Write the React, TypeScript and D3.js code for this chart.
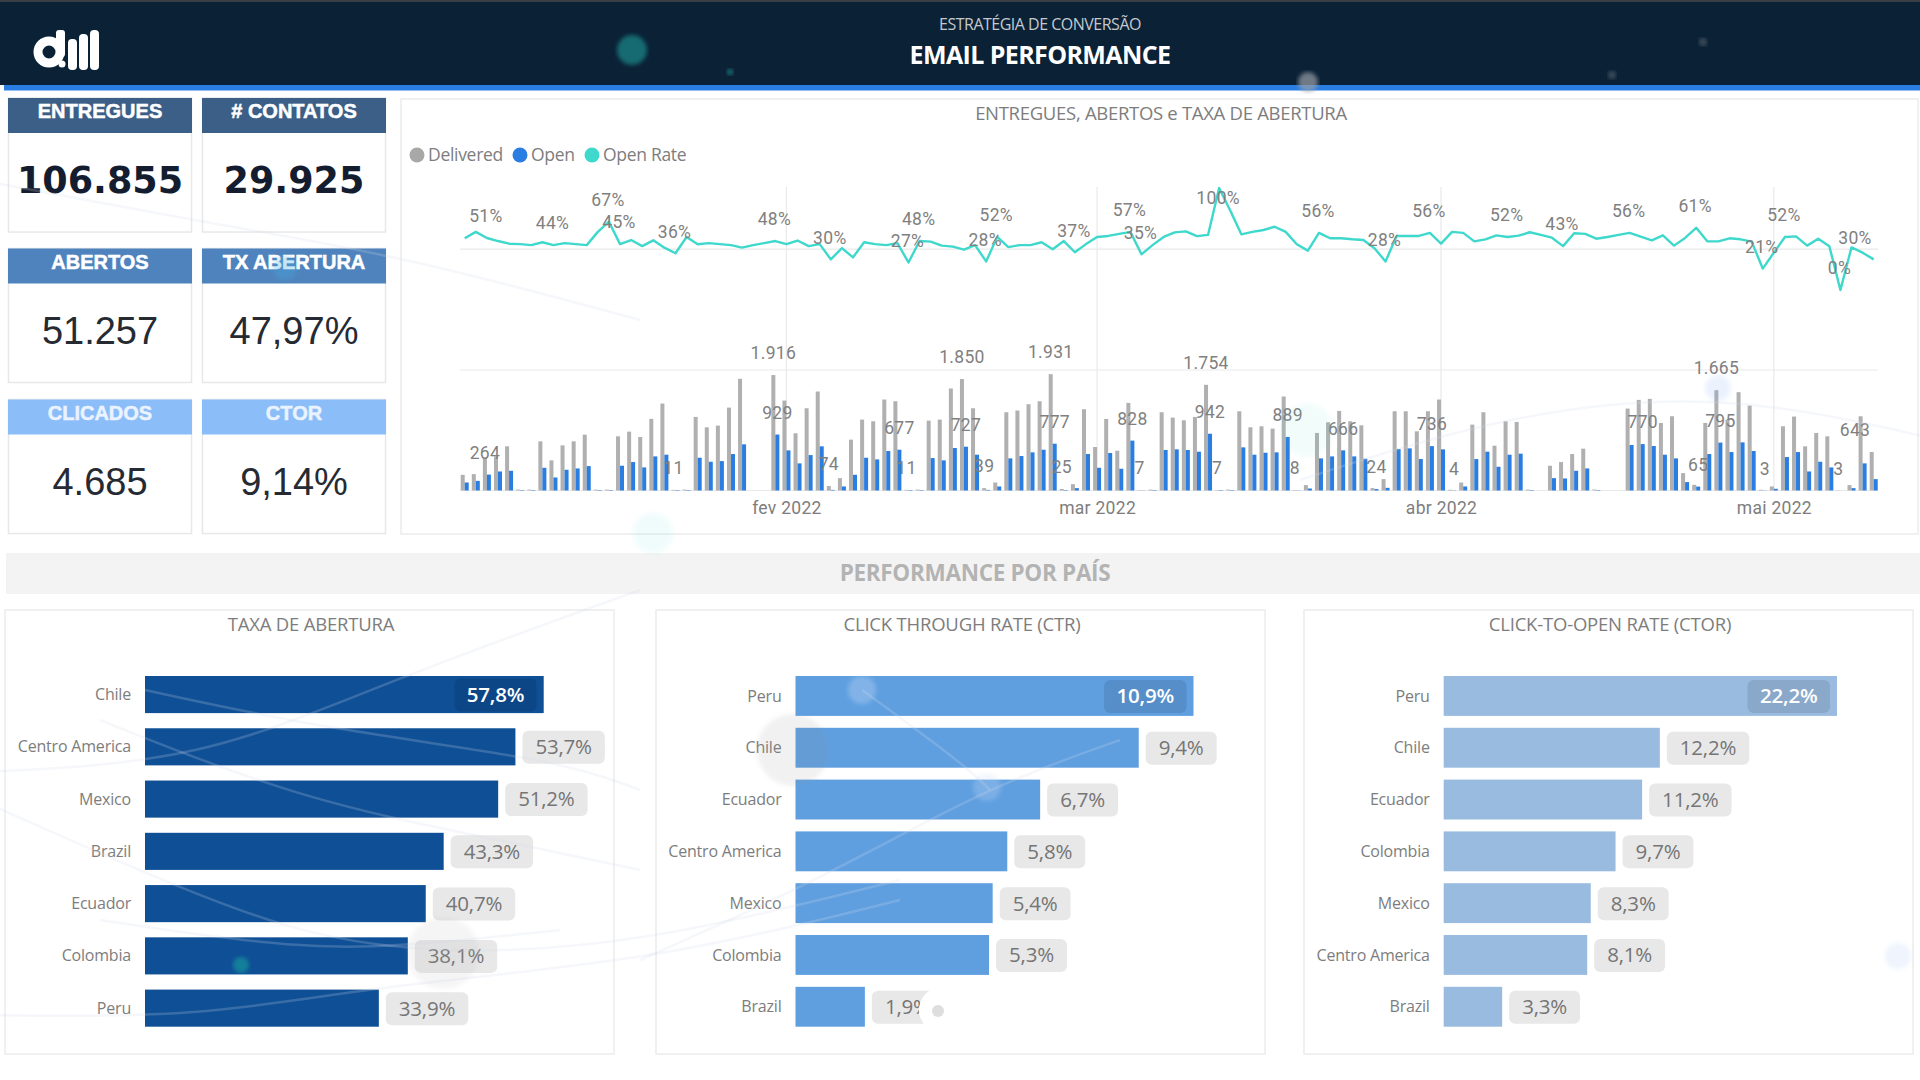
import * as d3 from "d3";
import { useEffect, useRef } from "react";

// kpi cards, left to right and top to bottom
const kpiTitles = ["ENTREGUES", "# CONTATOS", "ABERTOS", "TX ABERTURA", "CLICADOS", "CTOR"];
const kpiValues = ["106.855", "29.925", "51.257", "47,97%", "4.685", "9,14%"];

// one value per day from 3 jan 2022, seven per line (mon..fri, sat, sun)
const firstDay = new Date(2022, 0, 3);
const lastDay = new Date(2022, 4, 10);
const delivered = [
  260, 272, 538, 566, 733, 15, 15,
  816, 500, 749, 816, 927, 15, 15,
  899, 977, 888, 1188, 1443, 11, 15,
  1221, 1049, 1077, 1376, 1854, 0, 0,
  1916, 1493, 949, 1365, 1643, 74, 205,
  844, 1177, 1149, 1510, 1482, 11, 15,
  1160, 1177, 1693, 1850, 1365, 39, 133,
  1299, 1327, 1432, 1482, 1931, 25, 105,
  1349, 722, 1188, 660, 1454, 7, 15,
  1299, 1210, 1166, 1221, 1754, 7, 15,
  1315, 1049, 1066, 1027, 1560, 8, 89,
  955, 1132, 1321, 1149, 1082, 40, 189,
  1315, 1315, 982, 1315, 1510, 12, 133,
  1093, 1299, 744, 1149, 1138, 15, 0,
  411, 472, 605, 694, 15, 0, 0,
  1360, 1504, 1521, 1121, 1232, 289, 94,
  1121, 1665, 1177, 1632, 1410, 12, 67,
  1066, 1227, 733, 955, 899, 3, 89,
  1232, 638,
];
const opened = [
  133, 160, 264, 316, 327, 8, 8,
  377, 216, 344, 366, 405, 8, 8,
  411, 472, 383, 566, 594, 8, 8,
  544, 477, 488, 605, 766, 0, 0,
  929, 666, 450, 588, 733, 10, 67,
  261, 544, 516, 655, 677, 8, 8,
  538, 500, 705, 727, 594, 10, 67,
  533, 572, 633, 677, 777, 8, 39,
  605, 377, 622, 361, 828, 3, 8,
  672, 683, 672, 644, 942, 7, 8,
  716, 594, 627, 633, 889, 3, 33,
  533, 566, 666, 566, 527, 24, 44,
  688, 699, 522, 736, 683, 4, 67,
  522, 644, 394, 594, 611, 8, 0,
  205, 200, 327, 366, 8, 0, 0,
  755, 770, 738, 594, 533, 139, 65,
  605, 795, 638, 799, 655, 3, 28,
  555, 638, 316, 477, 383, 0, 39,
  450, 189,
];
const openRate = [
  50.7, 57, 51, 48, 45.4, 45, 44,
  46.8, 44, 46, 45, 44, 57, 67,
  45, 49, 43, 48.7, 41.5, 36, 52,
  44.8, 46, 45, 44, 41.5, 44, 46,
  48, 45, 48.5, 43, 45, 30, 41,
  32, 46.8, 45, 44, 46, 27, 48,
  47.4, 43.5, 42.5, 39.5, 44, 28, 52,
  42, 44, 44, 46.8, 40, 48, 37,
  45, 52, 53, 55, 57, 35, 44,
  52, 56.5, 57.5, 52.8, 54, 100, 78,
  54.6, 57, 58.8, 62, 57, 44.8, 38.6,
  56, 50.7, 50.7, 49.7, 49, 41, 28,
  52.9, 53, 53, 56, 45.5, 57, 56,
  47.7, 49.7, 53.6, 52, 53.3, 56.6, 54,
  51.3, 43, 55.6, 55, 50.3, 52, 54,
  56, 52.3, 48.7, 53.6, 43.5, 51, 61,
  47.7, 47.7, 50.7, 49.7, 47.4, 21, 36.6,
  52, 52.6, 43.5, 50.3, 43, 0, 41.8,
  36.6, 30,
];

// the few points power bi chose to label: [month, day, value]
const rateLabels = [
  [1, 5, 51], [1, 11, 44], [1, 16, 67], [1, 17, 45], [1, 22, 36], [1, 31, 48],
  [2, 5, 30], [2, 12, 27], [2, 13, 48], [2, 19, 28], [2, 20, 52], [2, 27, 37],
  [3, 4, 57], [3, 5, 35], [3, 12, 100], [3, 21, 56], [3, 27, 28], [3, 31, 56],
  [4, 7, 52], [4, 12, 43], [4, 18, 56], [4, 24, 61], [4, 30, 21],
  [5, 2, 52], [5, 7, 0], [5, 10, 30],
];
const deliveredLabels = [
  [1, 5, 264], [1, 22, 11], [1, 31, 1916], [2, 5, 74], [2, 12, 11], [2, 17, 1850],
  [2, 19, 39], [2, 25, 1931], [2, 26, 25], [3, 5, 7], [3, 11, 1754], [3, 12, 7],
  [3, 19, 8], [4, 26, 1665], [5, 7, 3],
];
const openedLabels = [
  [1, 31, 929], [2, 11, 677], [2, 17, 727], [2, 25, 777], [3, 4, 828], [3, 11, 942],
  [3, 18, 889], [3, 23, 666], [3, 26, 24], [3, 31, 736], [4, 2, 4], [4, 19, 770],
  [4, 24, 65], [4, 26, 795], [4, 30, 3], [5, 9, 643],
];
const monthNames = ["jan", "fev", "mar", "abr", "mai"];

// country panels
const openCountries = ["Chile", "Centro America", "Mexico", "Brazil", "Ecuador", "Colombia", "Peru"];
const openValues = [57.8, 53.7, 51.2, 43.3, 40.7, 38.1, 33.9];
const ctrCountries = ["Peru", "Chile", "Ecuador", "Centro America", "Mexico", "Colombia", "Brazil"];
const ctrValues = [10.9, 9.4, 6.7, 5.8, 5.4, 5.3, 1.9];
const ctorCountries = ["Peru", "Chile", "Ecuador", "Colombia", "Mexico", "Centro America", "Brazil"];
const ctorValues = [22.2, 12.2, 11.2, 9.7, 8.3, 8.1, 3.3];

const ptBR = d3.formatLocale({ decimal: ",", thousands: ".", grouping: [3], currency: ["R$", ""] });
const fmtInt = ptBR.format(",d");
const fmtPct = ptBR.format(".1f");

const GREY_TEXT = "#7d7d7d";
const SANS = "'Open Sans', sans-serif";
const DIN = "Roboto, sans-serif";

const drawHeader = (svg: any) => {
  svg.append("rect").attr("width", 1920).attr("height", 85).attr("fill", "#0b2136");
  svg.append("rect").attr("width", 1920).attr("height", 2).attr("fill", "#3a3f45");
  svg.append("rect").attr("x", 4).attr("y", 85).attr("width", 1916).attr("height", 5.5).attr("fill", "#2a7de1");

  // logo
  const logo = svg.append("g").attr("fill", "#fff").attr("transform", "translate(0,2)");
  logo.append("circle").attr("cx", 49).attr("cy", 50).attr("r", 11).attr("fill", "none").attr("stroke", "#fff").attr("stroke-width", 9);
  logo.append("rect").attr("x", 56).attr("y", 28).attr("width", 9).attr("height", 27).attr("rx", 3);
  logo.append("circle").attr("cx", 62).attr("cy", 62).attr("r", 3.5);
  [[68, 37], [79, 32], [90, 28]].forEach(([x, y]) => {
    logo.append("rect").attr("x", x).attr("y", y).attr("width", 9).attr("height", 68 - y).attr("rx", 4);
  });

  svg.append("text").text("ESTRATÉGIA DE CONVERSÃO")
    .attr("x", 1040).attr("y", 30).attr("text-anchor", "middle")
    .attr("font-family", SANS).attr("font-size", 16).attr("letter-spacing", -0.5).attr("fill", "#c4c9cf");
  svg.append("text").text("EMAIL PERFORMANCE")
    .attr("x", 1040).attr("y", 64).attr("text-anchor", "middle")
    .attr("font-family", SANS).attr("font-weight", 700).attr("font-size", 25).attr("letter-spacing", -0.6).attr("fill", "#fff");
};

const drawKpis = (svg: any) => {
  const colX = [8, 202];
  const rowY = [98, 248.5, 399.5];
  const headColors = ["#3c5f87", "#4f83bd", "#8bbdf8"];
  kpiTitles.forEach((title, i) => {
    const row = Math.floor(i / 2);
    const x = colX[i % 2];
    const y = rowY[row];
    const g = svg.append("g");
    g.append("rect").attr("x", x + 0.5).attr("y", y).attr("width", 183).attr("height", 134)
      .attr("fill", "#fff").attr("stroke", "#e8e8e8").attr("stroke-width", 1.5);
    g.append("rect").attr("x", x).attr("y", y).attr("width", 184).attr("height", 35).attr("fill", headColors[row]);
    g.append("text").text(title)
      .attr("x", x + 92).attr("y", y + 20).attr("text-anchor", "middle")
      .attr("font-family", "'Liberation Sans', Arial, sans-serif").attr("font-weight", 700)
      .attr("font-size", 20).attr("stroke", row === 2 ? "#eaf3ff" : "#fff").attr("stroke-width", 0.5)
      .attr("fill", row === 2 ? "#eaf3ff" : "#fff");
    const v = g.append("text").text(kpiValues[i])
      .attr("x", x + 92).attr("y", y + 95).attr("text-anchor", "middle");
    if (row === 0) {
      v.attr("font-family", "'DejaVu Sans', sans-serif").attr("font-weight", 700)
        .attr("font-size", 36.5).attr("fill", "#141c2f");
    } else {
      v.attr("font-family", "'Liberation Sans', Arial, sans-serif")
        .attr("font-size", 38).attr("fill", "#252a33");
    }
  });
};

const drawCombo = (svg: any) => {
  const g = svg.append("g");
  g.append("rect").attr("x", 401).attr("y", 99).attr("width", 1517).attr("height", 435)
    .attr("fill", "#fff").attr("stroke", "#ececec").attr("stroke-width", 1.5);
  g.append("text").text("ENTREGUES, ABERTOS e TAXA DE ABERTURA")
    .attr("x", 1161).attr("y", 120).attr("text-anchor", "middle")
    .attr("font-family", SANS).attr("font-size", 18.5).attr("letter-spacing", -0.3).attr("fill", GREY_TEXT);

  // legend
  [["Delivered", "#a8a8a8", 417], ["Open", "#2a7de1", 520], ["Open Rate", "#3fd8cc", 592]].forEach(([name, color, x]: any) => {
    g.append("circle").attr("cx", x).attr("cy", 155).attr("r", 7.5).attr("fill", color);
    g.append("text").text(name).attr("x", x + 11).attr("y", 161)
      .attr("font-family", SANS).attr("font-size", 17.5).attr("letter-spacing", -0.3).attr("fill", GREY_TEXT);
  });

  const x = d3.scaleTime().domain([firstDay, lastDay]).range([464.7, 1873.7]);
  const pair = d3.scaleBand().domain(["delivered", "open"]).range([-4, 4]);
  const yBars = d3.scaleLinear().domain([0, 2000]).range([490.5, 370]);
  const yRate = d3.scaleLinear().domain([0, 100]).range([290, 188]);
  const days = d3.timeDay.range(firstDay, d3.timeDay.offset(lastDay, 1));
  const monthTicks = [1, 2, 3, 4].map((m) => new Date(2022, m, 1));

  // grid
  const grid = g.append("g").attr("stroke", "#e9e9e9").attr("stroke-width", 1.2);
  grid.selectAll("line.v").data(monthTicks).join("line").attr("class", "v")
    .attr("x1", (d: Date) => x(d)).attr("x2", (d: Date) => x(d)).attr("y1", 187).attr("y2", 491);
  grid.append("line").attr("x1", 460).attr("x2", 1878).attr("y1", yRate(40)).attr("y2", yRate(40));
  grid.append("line").attr("x1", 460).attr("x2", 1878).attr("y1", yBars(2000)).attr("y2", yBars(2000));
  grid.append("line").attr("x1", 460).attr("x2", 1878).attr("y1", yBars(0)).attr("y2", yBars(0));

  // x axis
  const axis = d3.axisBottom(x)
    .tickValues(monthTicks)
    .tickSize(0)
    .tickPadding(11)
    .tickFormat((d: any) => `${monthNames[d.getMonth()]} ${d.getFullYear()}`);
  const axisG = g.append("g").attr("transform", `translate(0,${yBars(0)})`).call(axis);
  axisG.select(".domain").remove();
  axisG.selectAll("text").attr("font-family", DIN).attr("font-size", 17.5).attr("letter-spacing", 0.3).attr("fill", GREY_TEXT);

  // bars
  g.append("g").attr("fill", "#b0b0b0").selectAll("rect").data(days).join("rect")
    .attr("x", (d: Date) => x(d) + pair("delivered"))
    .attr("width", pair.bandwidth())
    .attr("y", (_: Date, i: number) => yBars(delivered[i]))
    .attr("height", (_: Date, i: number) => yBars(0) - yBars(delivered[i]));
  g.append("g").attr("fill", "#2a7de1").selectAll("rect").data(days).join("rect")
    .attr("x", (d: Date) => x(d) + pair("open"))
    .attr("width", pair.bandwidth())
    .attr("y", (_: Date, i: number) => yBars(opened[i]))
    .attr("height", (_: Date, i: number) => yBars(0) - yBars(opened[i]));

  // rate line
  const line = d3.line<Date>()
    .x((d) => x(d))
    .y((_, i) => yRate(openRate[i]));
  g.append("path").attr("d", line(days)).attr("fill", "none")
    .attr("stroke", "#3fd8cc").attr("stroke-width", 2.4).attr("stroke-linejoin", "round");

  // data labels, kept inside the plot like power bi does
  const addLabel = (text: string, lx: number, ly: number) => {
    g.append("text").text(text)
      .attr("x", Math.min(lx, 1855)).attr("y", ly).attr("dy", "0.36em").attr("text-anchor", "middle")
      .attr("font-family", DIN).attr("font-size", 17.5).attr("letter-spacing", 0.3).attr("fill", "#808080");
  };
  rateLabels.forEach(([m, day, v]) => {
    addLabel(`${v}%`, x(new Date(2022, m - 1, day)) - 1, Math.max(198, yRate(v) - 22));
  });
  deliveredLabels.forEach(([m, day, v]) => {
    addLabel(fmtInt(v), x(new Date(2022, m - 1, day)) + pair("delivered") + 2, yBars(v) - 22);
  });
  openedLabels.forEach(([m, day, v]) => {
    addLabel(fmtInt(v), x(new Date(2022, m - 1, day)) + pair("open") + 2, yBars(v) - 22);
  });
};

type PanelProps = {
  title: string;
  names: string[];
  values: number[];
  left: number;
  barLeft: number;
  barRight: number;
  inner: number;
  color: string;
};

const drawPanel = (svg: any, { title, names, values, left, barLeft, barRight, inner, color }: PanelProps) => {
  const g = svg.append("g");
  g.append("rect").attr("x", left).attr("y", 610).attr("width", 609).attr("height", 444)
    .attr("fill", "#fff").attr("stroke", "#ececec").attr("stroke-width", 1.5);
  g.append("text").text(title)
    .attr("x", left + 306).attr("y", 631).attr("text-anchor", "middle")
    .attr("font-family", SANS).attr("font-size", 18.5).attr("letter-spacing", -0.2).attr("fill", GREY_TEXT);

  const x = d3.scaleLinear().domain([0, values[0]]).range([barLeft, barRight]);
  const y = d3.scaleBand().domain(names).range([676, 1026.7]).paddingInner(inner);

  names.forEach((name, i) => {
    const top = y(name) as number;
    const mid = top + y.bandwidth() / 2;
    const end = x(values[i]);
    g.append("text").text(name)
      .attr("x", barLeft - 14).attr("y", mid).attr("dy", "0.35em").attr("text-anchor", "end")
      .attr("font-family", SANS).attr("font-size", 16).attr("letter-spacing", -0.2).attr("fill", GREY_TEXT);
    g.append("rect").attr("x", barLeft).attr("y", top).attr("width", end - barLeft).attr("height", y.bandwidth()).attr("fill", color);

    const chip = g.append("rect").attr("y", mid - 16).attr("height", 33).attr("rx", 6);
    const label = g.append("text").text(`${fmtPct(values[i])}%`)
      .attr("y", mid).attr("dy", "0.36em").attr("text-anchor", "middle")
      .attr("font-family", SANS).attr("font-size", 20.5).attr("letter-spacing", -0.2);
    const w = label.node().getComputedTextLength() + 26;
    // the biggest bar holds its label, the others carry it outside
    if (i === 0) {
      const chipX = end - 7 - w;
      chip.attr("x", chipX).attr("width", w).attr("fill", "#000").attr("fill-opacity", 0.1);
      label.attr("x", chipX + w / 2).attr("fill", "#fff").attr("font-weight", 600);
    } else {
      chip.attr("x", end + 7).attr("width", w).attr("fill", "#e8e8e8");
      label.attr("x", end + 7 + w / 2).attr("fill", "#757575");
    }
  });
};

// the moving network background of the original, it sits over everything
const drawOverlay = (svg: any) => {
  const g = svg.append("g").style("pointer-events", "none");
  const blur = svg.append("defs").append("filter").attr("id", "soft");
  blur.append("feGaussianBlur").attr("stdDeviation", 2);

  const curve = d3.line().curve(d3.curveBasis);
  const curves = [
    [[-20, 772], [200, 762], [390, 680], [640, 590]],
    [[-20, 1015], [200, 1018], [380, 985], [660, 960], [900, 900]],
    [[-20, 800], [160, 880], [300, 935], [440, 955], [640, 945], [900, 880]],
    [[145, 690], [330, 730], [560, 760], [640, 790]],
    [[100, 720], [300, 800], [500, 840], [640, 870]],
    [[100, 920], [300, 950], [420, 945], [560, 930]],
    [[-20, 180], [190, 220], [400, 255], [640, 320]],
    [[862, 690], [965, 765], [990, 790]],
    [[1120, 740], [987, 787], [820, 880], [640, 960]],
    [[1300, 480], [1500, 415], [1720, 390], [1940, 440]],
  ];
  g.selectAll("path").data(curves).join("path")
    .attr("d", (d: any) => curve(d))
    .attr("fill", "none").attr("stroke", "#d3d9e6").attr("stroke-width", 2.5).attr("stroke-opacity", 0.22);

  const dots = [
    [632, 50, 15, "#1fb5ad", 0.5], [1308, 82, 10, "#9aa0a8", 0.7], [1703, 42, 4, "#4a5866", 0.8],
    [1612, 75, 4, "#4a5866", 0.8], [730, 72, 3, "#1fb5ad", 0.6], [653, 533, 20, "#3fd8cc", 0.08],
    [285, 268, 12, "#3fb0e0", 0.3], [1718, 388, 13, "#7fa8f0", 0.15], [1307, 430, 26, "#3fd8cc", 0.07],
    [241, 965, 8, "#18a89e", 0.55], [862, 690, 14, "#cfe0f7", 0.3], [987, 787, 14, "#cfe0f7", 0.25],
    [1898, 956, 13, "#7fa8f0", 0.12], [443, 953, 36, "#9a9a9a", 0.1], [793, 750, 36, "#8a8a8a", 0.12],
  ];
  g.selectAll("circle.dot").data(dots).join("circle").attr("class", "dot")
    .attr("cx", (d: any) => d[0]).attr("cy", (d: any) => d[1]).attr("r", (d: any) => d[2])
    .attr("fill", (d: any) => d[3]).attr("fill-opacity", (d: any) => d[4])
    .attr("filter", "url(#soft)");

  // white blob that eats the brazil label in the ctr panel
  g.append("circle").attr("cx", 942).attr("cy", 1010).attr("r", 23).attr("fill", "#fff");
  g.append("circle").attr("cx", 938).attr("cy", 1011).attr("r", 6).attr("fill", "#dedede");
};

const drawDashboard = (target: SVGSVGElement) => {
  const svg = d3.select(target);
  svg.selectAll("*").remove();
  svg.append("rect").attr("width", 1920).attr("height", 1080).attr("fill", "#fff");

  drawHeader(svg);
  drawKpis(svg);
  drawCombo(svg);

  svg.append("rect").attr("x", 6).attr("y", 553).attr("width", 1914).attr("height", 41).attr("fill", "#f3f3f3");
  svg.append("text").text("PERFORMANCE POR PAÍS")
    .attr("x", 975).attr("y", 581).attr("text-anchor", "middle")
    .attr("font-family", SANS).attr("font-weight", 700).attr("font-size", 22.5).attr("letter-spacing", -0.3).attr("fill", "#b3b3b3");

  drawPanel(svg, { title: "TAXA DE ABERTURA", names: openCountries, values: openValues, left: 5, barLeft: 145, barRight: 543.7, inner: 0.29, color: "#0f4f96" });
  drawPanel(svg, { title: "CLICK THROUGH RATE (CTR)", names: ctrCountries, values: ctrValues, left: 656, barLeft: 795.5, barRight: 1193.5, inner: 0.23, color: "#5f9fe0" });
  drawPanel(svg, { title: "CLICK-TO-OPEN RATE (CTOR)", names: ctorCountries, values: ctorValues, left: 1304, barLeft: 1443.7, barRight: 1837, inner: 0.23, color: "#9abbe0" });

  drawOverlay(svg);
};

const App = () => {
  const svgRef = useRef<SVGSVGElement>(null);
  useEffect(() => {
    if (svgRef.current) {
      drawDashboard(svgRef.current);
    }
  }, []);
  return (
    <svg
      ref={svgRef}
      width={1920}
      height={1080}
      style={{ position: "fixed", top: 0, left: 0, background: "#fff" }}
    />
  );
};

export default App;
